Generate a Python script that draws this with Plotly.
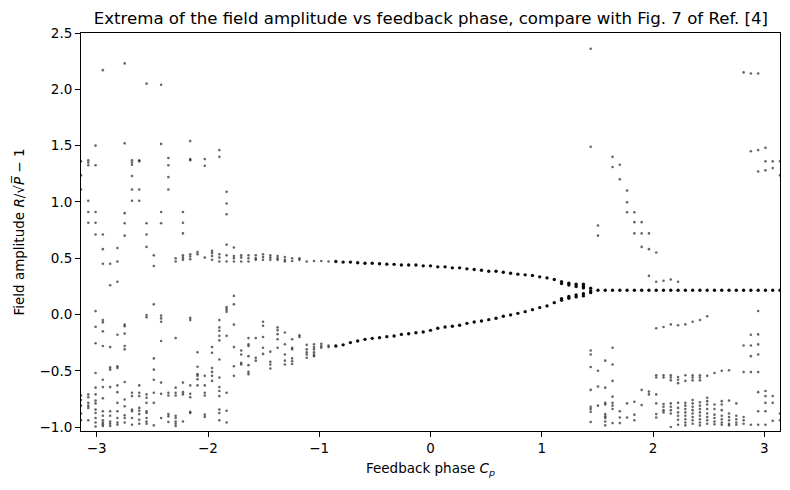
import numpy as np
import plotly.graph_objects as go

# feedback phase grid (97 samples over [-pi, pi])
phase = np.linspace(-np.pi, np.pi, 97)

# scattered extrema, columns 0..34 (left side)
left_cloud = [
    [1.36, 1.235, 1.11, -0.72, -0.76, -0.81, -0.88, -0.94],
    [1.37, 1.35, 1.325, 1.01, 0.91, 0.815, -0.71, -0.735, -0.785, -0.81, -0.83, -0.94],
    [1.50, 1.325, 0.91, 0.815, 0.71, 0.03, -0.11, -0.255, -0.52, -0.65, -0.71, -0.765, -0.79, -0.845, -0.875, -0.92, -0.96, -0.995],
    [2.17, 0.71, 0.58, 0.45, -0.05, -0.07, -0.15, -0.28, -0.58, -0.645, -0.745, -0.86, -0.9, -0.94, -0.96, -0.975, -0.99],
    [0.45, 0.26, -0.29, -0.47, -0.49, -0.645, -0.86, -0.9, -0.95, -0.97, -0.99],
    [0.59, 0.47, 0.29, -0.18, -0.46, -0.475, -0.63, -0.69, -0.785, -0.86, -0.92, -0.96, -0.98],
    [2.23, 1.52, 0.90, 0.81, 0.70, -0.09, -0.105, -0.17, -0.28, -0.31, -0.6, -0.755, -0.815, -0.895, -0.92, -0.96],
    [1.37, 1.35, 1.33, 1.23, 1.11, 1.01, -0.695, -0.725, -0.845, -0.86, -0.92, -0.98],
    [1.37, 1.36, 1.11, 1.01, -0.63, -0.695, -0.725, -0.83, -0.855, -0.885, -0.935, -0.97],
    [2.05, 0.81, 0.71, 0.60, -0.005, -0.025, -0.71, -0.74, -0.785, -0.86, -0.875, -0.92, -0.95, -0.97],
    [0.525, 0.43, 0.09, -0.39, -0.49, -0.58, -0.695, -0.785, -0.985],
    [2.04, 1.515, 0.91, 0.81, -0.01, -0.035, -0.065, -0.235, -0.605, -0.705, -0.92],
    [1.39, 1.325, 1.22, 1.11, -0.695, -0.72, -0.885, -0.905, -0.955],
    [0.50, 0.47, -0.21, -0.65, -0.695, -0.72, -0.9, -0.92, -0.95, -0.97, -0.99],
    [0.91, 0.815, 0.72, 0.525, 0.505, 0.485, -0.605, -0.69, -0.71, -0.95],
    [1.54, 1.38, 1.37, 0.535, 0.515, 0.49, -0.03, -0.05, -0.63, -0.705, -0.735, -0.865, -0.875],
    [0.555, 0.535, -0.335, -0.465, -0.53, -0.545, -0.575, -0.63],
    [1.38, 1.32, 0.505, -0.545, -0.63, -0.695, -0.72, -0.89, -0.91],
    [0.565, 0.545, 0.52, 0.485, -0.29, -0.34, -0.475, -0.51, -0.545, -0.59],
    [1.46, 1.40, 0.535, 0.505, 0.47, -0.05, -0.115, -0.145, -0.19, -0.23, -0.4, -0.56, -0.645, -0.68, -0.725, -0.845, -0.875, -0.94],
    [1.09, 0.985, 0.89, 0.62, 0.525, 0.47, 0.065, 0.045, 0.025, -0.19, -0.695, -0.855, -0.96],
    [0.595, 0.52, 0.5, 0.47, 0.165, 0.09, -0.09, -0.29, -0.46, -0.545],
    [0.525, 0.505, 0.47, -0.32, -0.355, -0.43, -0.445],
    [0.525, 0.5, 0.47, -0.21, -0.265, -0.28, -0.37, -0.45, -0.51, -0.53],
    [0.525, 0.5, 0.485, -0.21, -0.385, -0.41],
    [0.535, 0.51, 0.485, -0.065, -0.1, -0.2, -0.295, -0.35],
    [0.525, 0.505, 0.485, -0.33, -0.42, -0.445, -0.48],
    [0.52, 0.5, 0.485, -0.115, -0.14, -0.175, -0.22, -0.295],
    [0.51, 0.485, 0.47, -0.16, -0.265, -0.355, -0.41, -0.445],
    [0.5, 0.475, -0.22, -0.295, -0.31, -0.39, -0.415, -0.44],
    [0.5, 0.485, -0.185, -0.2],
    [0.47, -0.27, -0.31, -0.335, -0.355, -0.385],
    [0.475, -0.265, -0.29, -0.31, -0.335, -0.355, -0.37],
    [0.475, -0.26, -0.28, -0.295],
    [0.47, -0.275, -0.29],
]
left_start = 0

# two-branch periodic regime, columns 35..70
upper_branch = [
    [0.47], [0.465], [0.465], [0.46], [0.455], [0.455], [0.45], [0.447], [0.445],
    [0.44], [0.44], [0.44], [0.432], [0.432], [0.423], [0.423], [0.414], [0.414],
    [0.405], [0.399], [0.393], [0.384], [0.384], [0.375], [0.366], [0.358], [0.352],
    [0.346], [0.334], [0.325], [0.31],
    [0.292, 0.274], [0.277, 0.262], [0.268, 0.248], [0.268, 0.248, 0.236], [0.233, 0.209],
]
lower_branch = [
    [-0.28], [-0.27], [-0.25], [-0.236], [-0.221], [-0.212], [-0.206], [-0.197], [-0.191],
    [-0.177], [-0.171], [-0.162], [-0.156], [-0.141], [-0.123], [-0.111], [-0.105], [-0.096],
    [-0.079], [-0.067], [-0.058], [-0.046], [-0.034], [-0.016], [-0.004], [0.010], [0.025],
    [0.043], [0.061], [0.076], [0.105],
    [0.126, 0.141], [0.144, 0.159], [0.156, 0.174], [0.165, 0.185], [0.194],
]
branch_start = 35

# steady state, columns 71..96
steady_branch = [0.215] * 26
steady_start = 71

# scattered extrema, columns 70..96 (right side)
right_cloud = [
    [2.36, 1.49, -0.32, -0.355, -0.467, -0.67, -0.82, -0.84, -0.865, -0.955],
    [0.79, 0.70, -0.5, -0.64, -0.81],
    [-0.41, -0.65, -0.785, -0.8, -0.885, -0.905, -0.92, -0.95, -0.985],
    [1.40, 1.31, -0.295, -0.445, -0.59, -0.73, -0.785, -0.81, -0.84, -0.965],
    [1.33, 1.20, -0.86, -0.915, -0.965],
    [1.10, 0.997, 0.908, -0.79, -0.915],
    [0.908, 0.82, 0.72, -0.775, -0.89, -0.94],
    [0.82, 0.72, 0.60, -0.67, -0.805],
    [0.72, 0.58, 0.343, -0.685, -0.71],
    [0.55, 0.29, -0.123, -0.54, -0.56, -0.71, -0.79, -0.885, -0.915],
    [0.30, -0.111, -0.54, -0.56, -0.795, -0.82, -0.85, -0.87],
    [0.31, -0.088, -0.54, -0.56, -0.585, -0.79, -0.82, -0.85, -0.88, -1.0],
    [0.29, -0.096, -0.555, -0.58, -0.61, -0.785, -0.83, -0.87, -0.9, -0.935, -0.98],
    [-0.088, -0.54, -0.59, -0.785, -0.81, -0.84, -0.87, -0.9, -0.93, -0.96, -0.985],
    [-0.064, -0.54, -0.56, -0.585, -0.76, -0.79, -0.82, -0.85, -0.88, -0.91, -0.94, -0.97],
    [-0.049, -0.54, -0.56, -0.585, -0.78, -0.81, -0.84, -0.87, -0.9, -0.93, -0.96, -0.985],
    [-0.016, -0.545, -0.74, -0.77, -0.8, -0.84, -0.88, -0.91, -0.94, -0.97],
    [-0.52, -0.8, -0.84, -0.89, -0.92, -0.95, -0.975],
    [-0.5, -0.77, -0.8, -0.85, -0.9, -0.93, -0.96, -0.98],
    [-0.495, -0.765, -0.88, -0.91, -0.94, -0.97, -0.985],
    [-0.79, -0.9, -0.93, -0.96, -0.98],
    [2.15, -0.275, -0.512, -0.91, -0.94, -0.97],
    [2.14, 1.45, -0.18, -0.275, -0.37, -0.512, -0.98],
    [2.14, 1.46, 1.27, 0.031, -0.177, -0.266, -0.355, -0.512, -0.69, -0.86, -0.98],
    [1.48, 1.36, 1.28, -0.68, -0.725, -0.785, -0.86, -0.98],
    [1.36, 1.30, -0.725, -0.785, -0.945],
    [1.36, 1.235, -0.88, -0.94],
]
right_start = 70

x_ticks = [-3, -2, -1, 0, 1, 2, 3]
y_ticks = [-1.0, -0.5, 0.0, 0.5, 1.0, 1.5, 2.0, 2.5]


def flatten(columns, start):
    xs, ys = [], []
    for k, col in enumerate(columns):
        for v in col:
            xs.append(phase[start + k])
            ys.append(v)
    return xs, ys


cx1, cy1 = flatten(left_cloud, left_start)
cx2, cy2 = flatten(right_cloud, right_start)
bx1, by1 = flatten(upper_branch, branch_start)
bx2, by2 = flatten(lower_branch, branch_start)
bx3, by3 = flatten([[v] for v in steady_branch], steady_start)

fig = go.Figure()
fig.add_trace(go.Scatter(
    x=cx1 + cx2, y=cy1 + cy2, mode="markers",
    marker=dict(size=2.6, color="rgba(0,0,0,0.6)", line=dict(width=0)),
    hoverinfo="skip", showlegend=False))
fig.add_trace(go.Scatter(
    x=bx1 + bx2 + bx3, y=by1 + by2 + by3, mode="markers",
    marker=dict(size=3.4, color="rgba(0,0,0,0.95)", line=dict(width=0)),
    hoverinfo="skip", showlegend=False))

font_family = "DejaVu Sans"
axis_common = dict(
    showline=True, linecolor="black", linewidth=1, mirror=True,
    ticks="outside", ticklen=5, tickwidth=1, tickcolor="black",
    showgrid=False, zeroline=False,
    tickfont=dict(family=font_family, size=13.5, color="black"),
)

fig.update_layout(
    width=790, height=490,
    margin=dict(l=81, r=10, t=33, b=59),
    paper_bgcolor="white", plot_bgcolor="white",
    font=dict(family=font_family, color="black"),
    title=dict(
        text="Extrema of the field amplitude vs feedback phase, compare with Fig. 7 of Ref. [4]",
        x=0.5455, xanchor="center", y=1 - 18 / 490, yanchor="middle", yref="container",
        font=dict(family=font_family, size=16.6, color="black")),
    xaxis=dict(range=[-np.pi, np.pi], tickvals=x_ticks,
               ticktext=[str(t).replace("-", "\u2212") for t in x_ticks],
               title=dict(text="Feedback phase <i>C<sub>p</sub></i>",
                          font=dict(family=font_family, size=13.5), standoff=8),
               **axis_common),
    yaxis=dict(range=[-1.035, 2.5], tickvals=y_ticks, tickformat=".1f",
               title=dict(text="Field amplitude <i>R</i>/\u221a<i>P\u0305</i> \u2212 1",
                          font=dict(family=font_family, size=13.5), standoff=11),
               **axis_common),
)

fig.write_html("out.html")
